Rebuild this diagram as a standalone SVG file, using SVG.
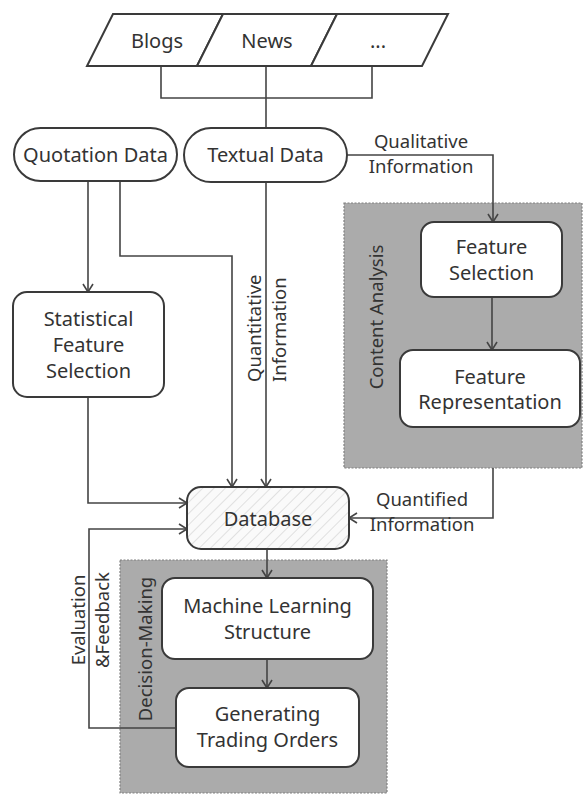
<svg xmlns="http://www.w3.org/2000/svg" width="585" height="795" viewBox="0 0 585 795">
<defs>
<marker id="arr" markerWidth="12" markerHeight="12" refX="9" refY="6" orient="auto" markerUnits="userSpaceOnUse">
<polyline points="1,1 9,6 1,11" fill="none" stroke="#444" stroke-width="1.6"/>
</marker>
<pattern id="hatch" width="8" height="8" patternUnits="userSpaceOnUse" patternTransform="rotate(45)">
<rect width="8" height="8" fill="#fafafa"/>
<line x1="0" y1="0" x2="0" y2="8" stroke="#d8d8d8" stroke-width="1.5"/>
</pattern>
</defs>
<style>
.box{fill:#fff;stroke:#3a3a3a;stroke-width:2}
.panel{fill:#ababab;stroke:#808080;stroke-width:1.2;stroke-dasharray:2 1.5}
.t{font-family:"Noto Sans","Liberation Sans",Arial,sans-serif;font-size:20px;fill:#333;text-anchor:middle}
.l{font-family:"Noto Sans","Liberation Sans",Arial,sans-serif;font-size:18.5px;fill:#333;text-anchor:middle}
.s{text-anchor:start}
.c{fill:none;stroke:#444;stroke-width:1.6}
</style>
<rect width="585" height="795" fill="#fff"/>

<g id="content-analysis">
<rect class="panel" x="344" y="203" width="238" height="265"/>
<text class="l" transform="translate(383,317) rotate(-90)">Content Analysis</text>
</g>
<g id="decision-making">
<rect class="panel" x="120" y="560" width="267" height="233"/>
<text class="l" transform="translate(152,649) rotate(-90)">Decision-Making</text>
</g>

<g id="connectors">
<polyline class="c" points="161,66 161,98 372,98 372,66"/>
<line class="c" x1="266" y1="66" x2="266" y2="128"/>
<line class="c" x1="88" y1="181" x2="88" y2="292" marker-end="url(#arr)"/>
<polyline class="c" points="120,181 120,256 232,256 232,487" marker-end="url(#arr)"/>
<line class="c" x1="266" y1="182" x2="266" y2="487" marker-end="url(#arr)"/>
<polyline class="c" points="347,155 493,155 493,222" marker-end="url(#arr)"/>
<line class="c" x1="492" y1="297" x2="492" y2="350" marker-end="url(#arr)"/>
<polyline class="c" points="493,468 493,518 349,518" marker-end="url(#arr)"/>
<polyline class="c" points="88,397 88,503 187,503" marker-end="url(#arr)"/>
<line class="c" x1="267" y1="549" x2="267" y2="578" marker-end="url(#arr)"/>
<line class="c" x1="267" y1="659" x2="267" y2="688" marker-end="url(#arr)"/>
<polyline class="c" points="176,728 89,728 89,529 187,529" marker-end="url(#arr)"/>
<text class="l" x="421" y="148">Qualitative</text>
<text class="l" x="421" y="173">Information</text>
<text class="l s" transform="translate(261,382) rotate(-90)">Quantitative</text>
<text class="l s" transform="translate(286,382) rotate(-90)">Information</text>
<text class="l" x="422" y="506">Quantified</text>
<text class="l" x="422" y="531">Information</text>
<text class="l" transform="translate(85,620) rotate(-90)">Evaluation</text>
<text class="l" transform="translate(109,620) rotate(-90)">&amp;Feedback</text>
</g>

<g id="blogs">
<polygon class="box" points="113,14 223,14 197,66 87,66"/>
<text class="t" x="157" y="48">Blogs</text>
</g>
<g id="news">
<polygon class="box" points="223,14 337,14 311,66 197,66"/>
<text class="t" x="267" y="48">News</text>
</g>
<g id="more">
<polygon class="box" points="337,14 448,14 422,66 311,66"/>
<text class="t" x="378" y="48">...</text>
</g>

<g id="quotation-data">
<rect class="box" x="14" y="128" width="163" height="53" rx="26.5"/>
<text class="t" x="95.5" y="162">Quotation Data</text>
</g>
<g id="textual-data">
<rect class="box" x="184" y="128" width="163" height="54" rx="27"/>
<text class="t" x="265.5" y="162">Textual Data</text>
</g>
<g id="statistical-feature-selection">
<rect class="box" x="13" y="292" width="151" height="105" rx="14"/>
<text class="t" x="88.5" y="326">Statistical</text>
<text class="t" x="88.5" y="352">Feature</text>
<text class="t" x="88.5" y="378">Selection</text>
</g>
<g id="feature-selection">
<rect class="box" x="421" y="222" width="141" height="75" rx="13"/>
<text class="t" x="491.5" y="254">Feature</text>
<text class="t" x="491.5" y="280">Selection</text>
</g>
<g id="feature-representation">
<rect class="box" x="400" y="350" width="180" height="77" rx="13"/>
<text class="t" x="490" y="384">Feature</text>
<text class="t" x="490" y="409">Representation</text>
</g>
<g id="database">
<rect x="187" y="487" width="162" height="62" rx="14" fill="url(#hatch)" stroke="#3a3a3a" stroke-width="2"/>
<text class="t" x="268" y="526">Database</text>
</g>
<g id="machine-learning-structure">
<rect class="box" x="162" y="578" width="211" height="81" rx="13"/>
<text class="t" x="267.5" y="613">Machine Learning</text>
<text class="t" x="267.5" y="639">Structure</text>
</g>
<g id="generating-trading-orders">
<rect class="box" x="176" y="688" width="183" height="79" rx="13"/>
<text class="t" x="267.5" y="721">Generating</text>
<text class="t" x="267.5" y="747">Trading Orders</text>
</g>
</svg>
